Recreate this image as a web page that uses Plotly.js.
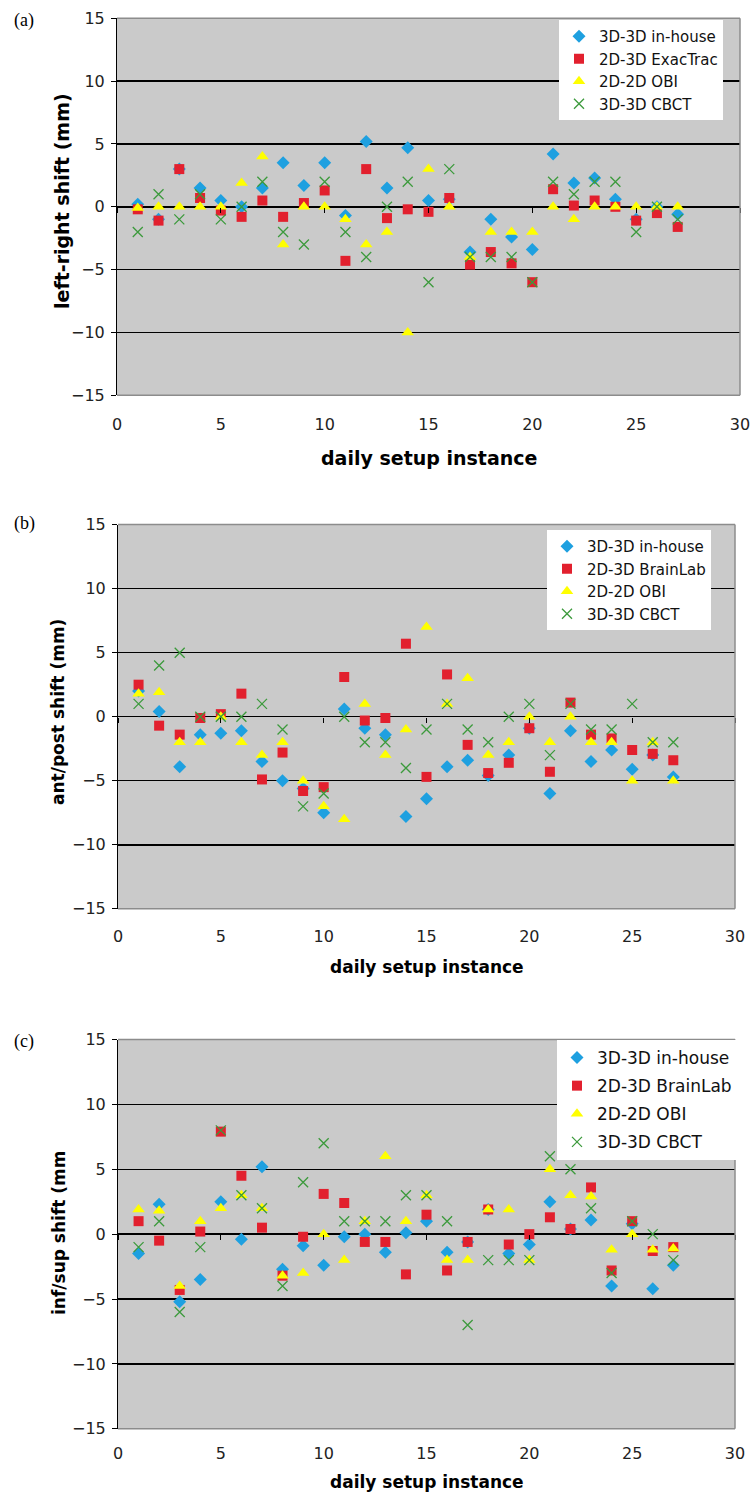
<!DOCTYPE html>
<html>
<head>
<meta charset="utf-8">
<script src="https://cdn.plot.ly/plotly-3.0.1.min.js"></script>
<style>
html,body{margin:0;padding:0;background:#fff;}
#chart{width:752px;height:1494px;}
</style>
</head>
<body>
<div id="chart"></div>
<script>
// ---------- data ----------
const days = [1,2,3,4,5,6,7,8,9,10,11,12,13,14,15,16,17,18,19,20,21,22,23,24,25,26,27];
const xTicks = [0,5,10,15,20,25,30];
const yTicks = [-15,-10,-5,0,5,10,15];

const seriesNamesA = ["3D-3D in-house","2D-3D ExacTrac","2D-2D OBI","3D-3D CBCT"];
const seriesNamesBC = ["3D-3D in-house","2D-3D BrainLab","2D-2D OBI","3D-3D CBCT"];

// (a) left-right shift (mm)
const a_inhouse  = [0.2,-1,3,1.5,0.5,0,1.5,3.5,1.7,3.5,-0.7,5.2,1.5,4.7,0.5,0.6,-3.6,-1.0,-2.4,-3.4,4.2,1.9,2.3,0.6,-1.0,0,-0.6];
const a_exactrac = [-0.2,-1.1,3,0.7,-0.3,-0.8,0.5,-0.8,0.3,1.3,-4.3,3,-0.9,-0.2,-0.4,0.7,-4.6,-3.6,-4.5,-6,1.4,0.1,0.5,0,-1.1,-0.5,-1.6];
const a_obi      = [-0.1,0,0,0,0,1.9,4,-3,0,0,-1,-3,-2,-10,3,0,-4,-2,-2,-2,0,-1,0,0,0,0,0];
const a_cbct     = [-2,1,-1,1,-1,0,2,-2,-3,2,-2,-4,0,2,-6,3,-4,-4,-4,-6,2,1,2,2,-2,0,-1];

// (b) ant/post shift (mm)
const b_inhouse  = [2,0.4,-3.9,-1.4,-1.3,-1.1,-3.5,-5,-5.6,-7.5,0.6,-0.9,-1.4,-7.8,-6.4,-3.9,-3.4,-4.6,-3.0,-0.9,-6,-1.1,-3.5,-2.6,-4.1,-3.0,-4.7];
const b_brainlab = [2.5,-0.7,-1.4,-0.1,0.2,1.8,-4.9,-2.8,-5.8,-5.5,3.1,-0.3,-0.1,5.7,-4.7,3.3,-2.2,-4.4,-3.6,-0.9,-4.3,1.1,-1.4,-1.7,-2.6,-2.9,-3.4];
const b_obi      = [1.8,1.9,-2,-2,0,-2,-3,-2,-5,-7,-8,1,-3,-1,7,1,3,-3,-2,0,-2,0,-2,-2,-5,-2,-5];
const b_cbct     = [1,4,5,0,0,0,1,-1,-7,-6,0,-2,-2,-4,-1,1,-1,-2,0,1,-3,1,-1,-1,1,-2,-2];

// (c) inf/sup shift (mm)
const c_inhouse  = [-1.5,2.3,-5.2,-3.5,2.5,-0.4,5.2,-2.7,-0.9,-2.4,-0.2,0,-1.4,0.1,1,-1.4,-0.6,1.9,-1.5,-0.8,2.5,0.4,1.1,-4,0.8,-4.2,-2.4];
const c_brainlab = [1,-0.5,-4.3,0.2,7.9,4.5,0.5,-3.2,-0.2,3.1,2.4,-0.6,-0.6,-3.1,1.5,-2.8,-0.6,1.9,-0.8,0,1.3,0.4,3.6,-2.8,1,-1.3,-1];
const c_obi      = [1.9,1.8,-4,1,2,3,2,-3.2,-3,0,-2,1,6,1,3,-2,-2,1.9,1.9,-2,5,3,2.9,-1.2,0,-1.2,-1.1];
const c_cbct     = [-1,1,-6,-1,8,3,2,-4,4,7,1,1,1,3,3,1,-7,-2,-2,-2,6,5,2,-3,1,0,-2];

const panelLetters = ["(a)","(b)","(c)"];
const yTitles = ["left-right shift (mm)","ant/post shift (mm)","inf/sup shift (mm"];
const xTitle = "daily setup instance";

// ---------- styles ----------
const W = 752, H = 1494;
const markerStyles = [
  {symbol:"diamond", size:10, color:"#1EA0E0", line:{width:0}},
  {symbol:"square", size:10, color:"#E2202E", line:{width:0}},
  {symbol:"triangle-up", size:11, color:"#FFFF00", line:{width:0}},
  {symbol:"x-thin-open", size:10, color:"#3C9A3C", line:{width:1.3, color:"#3C9A3C"}}
];
// pixel boxes of each plot area [left, right, top, bottom]
const boxes = [
  [117, 740, 18.3, 395.3],
  [118, 735, 524.6, 908.8],
  [118, 735, 1039.5, 1428.8]
];
const legendPos = [[559, 20, 15, 0],[547, 530, 15, 0],[557, 1040, 17, 3]];
const yTitlePos = [[62, 201, 19],[58, 712, 17],[59, 1233, 17]];
const xTitlePos = [[428.5, 458, 19],[426.5, 967, 17],[426.5, 1482, 17]];
const xLabelStandoff = [18, 16, 13];
const letterPos = [[12, 21],[12, 524],[12, 1041]];

const panels = [
  {series:[a_inhouse,a_exactrac,a_obi,a_cbct], names:seriesNamesA},
  {series:[b_inhouse,b_brainlab,b_obi,b_cbct], names:seriesNamesBC},
  {series:[c_inhouse,c_brainlab,c_obi,c_cbct], names:seriesNamesBC}
];

const tickFont = {family:"DejaVu Sans, Verdana, sans-serif", size:16, color:"#222"};
const data = [];
const layout = {
  width:W, height:H,
  margin:{l:0,r:0,t:0,b:0},
  paper_bgcolor:"#ffffff",
  plot_bgcolor:"#CACACA",
  showlegend:true,
  annotations:[], shapes:[]
};

panels.forEach((p, i) => {
  const n = i + 1;
  const xid = n === 1 ? "x" : "x" + n;
  const yid = n === 1 ? "y" : "y" + n;
  const xKey = n === 1 ? "xaxis" : "xaxis" + n;
  const yKey = n === 1 ? "yaxis" : "yaxis" + n;
  const legKey = n === 1 ? "legend" : "legend" + n;
  const b = boxes[i];
  const xd = [b[0]/W, b[1]/W];
  const yd = [1 - b[3]/H, 1 - b[2]/H];

  p.series.forEach((vals, k) => {
    const ms = markerStyles[k];
    data.push({
      type:"scatter", mode:"markers",
      x:days, y:vals, name:p.names[k],
      xaxis:xid, yaxis:yid, legend:legKey,
      legendgroup:"g"+n+"_"+k,
      marker:{symbol:ms.symbol, size:ms.size, color:ms.color, line:ms.line},
      cliponaxis:false, hoverinfo:"x+y"
    });
  });

  layout[xKey] = {
    domain:xd, anchor:yid, range:[0,30], tickvals:xTicks,
    ticks:"", showgrid:false, zeroline:false,
    showline:false, tickfont:tickFont, ticklabelstandoff:xLabelStandoff[i], fixedrange:true
  };
  layout[yKey] = {
    domain:yd, anchor:xid, range:[-15,15], tickvals:yTicks,
    ticks:"outside", ticklen:5, tickcolor:"#000", tickwidth:1,
    showline:true, linecolor:"#000", linewidth:1,
    showgrid:true, gridcolor:"#000", gridwidth:1.5,
    zeroline:true, zerolinecolor:"#000", zerolinewidth:1.5,
    tickfont:tickFont, ticklabelstandoff:3, fixedrange:true
  };
  // tick marks on the zero line (Excel-style axis crossing at 0)
  const zKey = "xaxis" + (n + 3);
  layout[zKey] = {
    overlaying:xid, anchor:"free", position:(yd[0]+yd[1])/2, side:"bottom",
    range:[0,30], tickvals:xTicks, ticks:"outside", ticklen:5, tickcolor:"#000", tickwidth:1,
    showticklabels:false, showline:false, showgrid:false, zeroline:false, fixedrange:true
  };
  data.push({type:"scatter", mode:"markers", x:[], y:[], xaxis:"x"+(n+3), yaxis:yid, showlegend:false, hoverinfo:"skip"});

  // gray frame (top, right, bottom)
  const frame = {type:"line", xref:xid+" domain", yref:yid+" domain", layer:"above", line:{color:"#8C8C8C", width:1.5}};
  layout.shapes.push(Object.assign({}, frame, {x0:0, x1:1, y0:1, y1:1}));
  layout.shapes.push(Object.assign({}, frame, {x0:1, x1:1, y0:0, y1:1}));
  layout.shapes.push(Object.assign({}, frame, {x0:0, x1:1, y0:0, y1:0}));

  const lp = legendPos[i];
  layout[legKey] = {
    x:lp[0]/W, y:1 - lp[1]/H, xanchor:"left", yanchor:"top",
    bgcolor:"#ffffff", borderwidth:0,
    font:{family:"DejaVu Sans, Verdana, sans-serif", size:lp[2], color:"#111"},
    tracegroupgap:lp[3], itemclick:false, itemdoubleclick:false
  };

  layout.annotations.push({
    text:panelLetters[i], xref:"paper", yref:"paper",
    x:letterPos[i][0]/W, y:1 - letterPos[i][1]/H, xanchor:"left", yanchor:"middle",
    showarrow:false, font:{family:"Liberation Serif, Times New Roman, serif", size:18, color:"#000"}
  });
  const yt = yTitlePos[i];
  layout.annotations.push({
    text:"<b>"+yTitles[i]+"</b>", xref:"paper", yref:"paper",
    x:yt[0]/W, y:1 - yt[1]/H, xanchor:"center", yanchor:"middle", textangle:-90,
    showarrow:false, font:{family:"DejaVu Sans, Verdana, sans-serif", size:yt[2], color:"#000"}
  });
  const xt = xTitlePos[i];
  layout.annotations.push({
    text:"<b>"+xTitle+"</b>", xref:"paper", yref:"paper",
    x:xt[0]/W, y:1 - xt[1]/H, xanchor:"center", yanchor:"middle",
    showarrow:false, font:{family:"DejaVu Sans, Verdana, sans-serif", size:xt[2], color:"#000"}
  });
});

Plotly.newPlot("chart", data, layout, {staticPlot:true, displayModeBar:false});
</script>
</body>
</html>
